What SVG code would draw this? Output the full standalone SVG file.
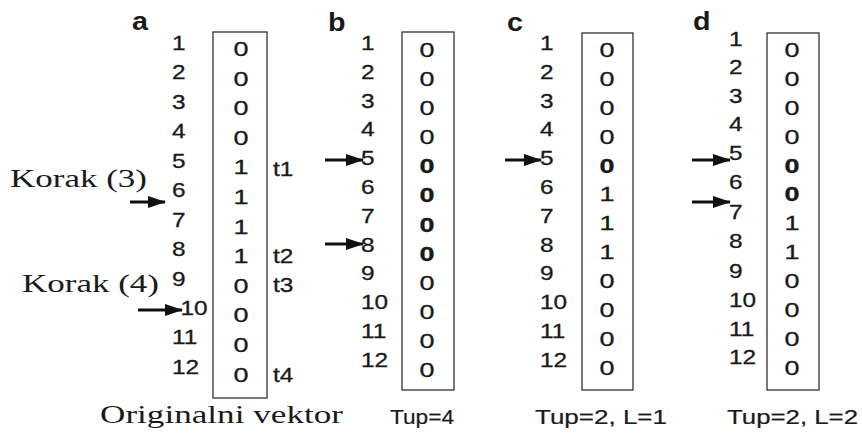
<svg xmlns="http://www.w3.org/2000/svg" width="862" height="435" viewBox="0 0 862 435">
<defs>
<style>
text{font-family:"Liberation Sans",Arial,sans-serif;fill:#1a1a1a}
.num{font-size:20px;stroke:#1a1a1a;stroke-width:0.3}
.dig{font-size:20px;text-anchor:middle;stroke:#1a1a1a;stroke-width:0.3}
.b{font-weight:bold}
.hdr{font-size:25px;font-weight:bold}
.ser{font-family:"Liberation Serif","Times New Roman",serif;font-size:26px}
.lbl{font-size:20px;stroke:#1a1a1a;stroke-width:0.2}
.box{fill:none;stroke:#333;stroke-width:1.3}
.arr{stroke:#111;stroke-width:3;fill:none}
</style>
<marker id="ah" viewBox="0 0 18 12" refX="17" refY="6" markerWidth="18" markerHeight="12" markerUnits="userSpaceOnUse" orient="auto">
<path d="M0,0 L18,6 L0,12 z" fill="#111"/>
</marker>
</defs>
<rect width="862" height="435" fill="#fff"/>

<g id="panel-a">
<text class="hdr" transform="translate(132,30) scale(1.15,1)">a</text>
<rect class="box" x="213" y="32" width="54" height="366"/>
<g class="num" transform="translate(172,0) scale(1.22,1)">
<text y="50">1</text><text y="79.5">2</text><text y="109">3</text><text y="138.4">4</text><text y="167.8">5</text><text y="197.3">6</text><text y="226.7">7</text><text y="256.2">8</text><text y="285.6">9</text><text x="7" y="315">10</text><text y="344.5">11</text><text y="374">12</text>
</g>
<g class="dig" transform="translate(241,0) scale(1.35,1)">
<text y="56">0</text><text y="85.6">0</text><text y="115.2">0</text><text y="144.8">0</text><text y="174.4">1</text><text y="204">1</text><text y="233.6">1</text><text y="263.2">1</text><text y="292.8">0</text><text y="322.4">0</text><text y="352">0</text><text y="381.6">0</text>
</g>
<g class="num" transform="translate(273,0) scale(1.22,1)">
<text y="176">t1</text><text y="263">t2</text><text y="292.5">t3</text><text y="382">t4</text>
</g>
<text class="ser" x="10" y="187" textLength="137" lengthAdjust="spacingAndGlyphs">Korak (3)</text>
<text class="ser" x="22" y="292" textLength="137" lengthAdjust="spacingAndGlyphs">Korak (4)</text>
<text class="ser" x="100" y="423" textLength="243" lengthAdjust="spacingAndGlyphs">Originalni vektor</text>
</g>

<g id="panel-b">
<text class="hdr" transform="translate(328,31) scale(1.15,1)">b</text>
<rect class="box" x="402" y="32" width="52" height="358"/>
<g class="num" transform="translate(361,0) scale(1.22,1)">
<text y="50">1</text><text y="78.8">2</text><text y="107.6">3</text><text y="136.4">4</text><text y="165.2">5</text><text y="194">6</text><text y="222.8">7</text><text y="251.6">8</text><text y="280.4">9</text><text y="309.2">10</text><text y="338">11</text><text y="366.8">12</text>
</g>
<g class="dig" transform="translate(427,0) scale(1.35,1)">
<text y="57">0</text><text y="86.1">0</text><text y="115.2">0</text><text y="144.3">0</text><text class="b" y="173.4">0</text><text class="b" y="202.5">0</text><text class="b" y="231.6">0</text><text class="b" y="260.7">0</text><text y="289.8">0</text><text y="318.9">0</text><text y="348">0</text><text y="377">0</text>
</g>
<text class="lbl" x="390" y="424" textLength="64" lengthAdjust="spacingAndGlyphs">Tup=4</text>
</g>

<g id="panel-c">
<text class="hdr" transform="translate(507,31) scale(1.15,1)">c</text>
<rect class="box" x="582" y="33" width="51" height="357"/>
<g class="num" transform="translate(540,0) scale(1.22,1)">
<text y="50">1</text><text y="78.8">2</text><text y="107.6">3</text><text y="136.4">4</text><text y="165.2">5</text><text y="194">6</text><text y="222.8">7</text><text y="251.6">8</text><text y="280.4">9</text><text y="309.2">10</text><text y="338">11</text><text y="366.8">12</text>
</g>
<g class="dig" transform="translate(607,0) scale(1.35,1)">
<text y="57">0</text><text y="85.9">0</text><text y="114.8">0</text><text y="143.7">0</text><text class="b" y="172.6">0</text><text y="201.5">1</text><text y="230.4">1</text><text y="259.3">1</text><text y="288.2">0</text><text y="317.1">0</text><text y="346">0</text><text y="375">0</text>
</g>
<text class="lbl" x="535" y="424" textLength="132" lengthAdjust="spacingAndGlyphs">Tup=2, L=1</text>
</g>

<g id="panel-d">
<text class="hdr" transform="translate(693,30) scale(1.15,1)">d</text>
<rect class="box" x="767" y="33" width="52" height="357"/>
<g class="num" transform="translate(729,0) scale(1.22,1)">
<text y="46">1</text><text y="74.5">2</text><text y="103">3</text><text y="131.5">4</text><text y="160">5</text><text y="189.5">6</text><text y="219">7</text><text y="248.5">8</text><text y="278">9</text><text y="307">10</text><text y="336">11</text><text y="364">12</text>
</g>
<g class="dig" transform="translate(792,0) scale(1.35,1)">
<text y="57">0</text><text y="85.9">0</text><text y="114.8">0</text><text y="143.7">0</text><text class="b" y="172.6">0</text><text class="b" y="201.5">0</text><text y="230.4">1</text><text y="259.3">1</text><text y="288.2">0</text><text y="317.1">0</text><text y="346">0</text><text y="375">0</text>
</g>
<text class="lbl" x="727" y="424" textLength="131" lengthAdjust="spacingAndGlyphs">Tup=2, L=2</text>
</g>

<g id="connectors">
<line class="arr" x1="130" y1="202" x2="165" y2="202" marker-end="url(#ah)"/>
<line class="arr" x1="138" y1="310" x2="182" y2="310" marker-end="url(#ah)"/>
<line class="arr" x1="325" y1="160" x2="363" y2="160" marker-end="url(#ah)"/>
<line class="arr" x1="325" y1="244" x2="363" y2="244" marker-end="url(#ah)"/>
<line class="arr" x1="505" y1="160" x2="541" y2="160" marker-end="url(#ah)"/>
<line class="arr" x1="692" y1="160" x2="730" y2="160" marker-end="url(#ah)"/>
<line class="arr" x1="692" y1="202" x2="730" y2="202" marker-end="url(#ah)"/>
</g>
</svg>
